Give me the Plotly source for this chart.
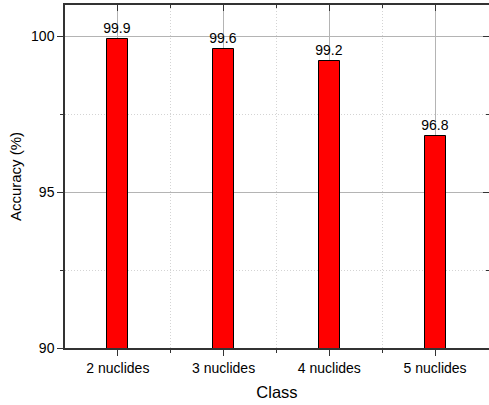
import plotly.graph_objects as go

categories = ["2 nuclides", "3 nuclides", "4 nuclides", "5 nuclides"]
accuracy = [99.9, 99.6, 99.2, 96.8]
y_ticks = [90, 95, 100]
y_minor = [92.5, 97.5]

x_pos = list(range(len(categories)))
x_minor = [i + 0.5 for i in range(len(categories) - 1)]
x_range = [-0.5, len(categories) - 0.5 + 0.01]
y_range = [90, 101]

AX = "#333333"
FONT = "Arial, Liberation Sans, sans-serif"

fig = go.Figure()
fig.add_trace(go.Bar(
    x=x_pos, y=accuracy, width=0.2,
    marker=dict(color="#ff0000", line=dict(color="#000000", width=1)),
    text=[f"{v:.1f}" for v in accuracy], textposition="outside",
    constraintext="none",
    textfont=dict(size=14, color="#000000", family=FONT),
    cliponaxis=False,
))
# invisible trace to activate mirrored top/right axes
fig.add_trace(go.Scatter(x=[None], y=[None], xaxis="x2", yaxis="y2", showlegend=False))

fig.update_layout(
    width=489, height=405,
    margin=dict(l=65, r=0, t=5, b=57),
    plot_bgcolor="white", paper_bgcolor="white",
    showlegend=False, bargap=0,
    font=dict(family=FONT, size=14, color="#000000"),
    xaxis=dict(
        range=x_range, tickvals=x_pos, ticktext=categories,
        showline=True, linecolor=AX, linewidth=1.5,
        ticks="outside", ticklen=6, tickcolor=AX, tickwidth=1,
        showgrid=True, gridcolor="#b4b4b4", gridwidth=1,
        zeroline=False,
        minor=dict(tickvals=x_minor, ticks="outside", ticklen=3, tickcolor=AX,
                   showgrid=True, gridcolor="#d4d4d4", griddash="1px,2px", gridwidth=1),
        title=dict(text="Class", font=dict(size=16.5), standoff=12),
        tickfont=dict(size=14),
    ),
    yaxis=dict(
        range=y_range, tickvals=y_ticks,
        showline=True, linecolor=AX, linewidth=1.5,
        ticks="outside", ticklen=6, tickcolor=AX, tickwidth=1,
        showgrid=True, gridcolor="#b4b4b4", gridwidth=1,
        zeroline=False,
        minor=dict(tickvals=y_minor, ticks="outside", ticklen=3, tickcolor=AX,
                   showgrid=True, gridcolor="#d4d4d4", griddash="1px,2px", gridwidth=1),
        title=dict(text="Accuracy (%)", font=dict(size=15), standoff=6),
        tickfont=dict(size=14),
    ),
    xaxis2=dict(
        overlaying="x", side="top", range=x_range, tickvals=x_pos,
        showticklabels=False, showline=True, linecolor=AX, linewidth=1.5,
        ticks="inside", ticklen=6, tickcolor=AX, showgrid=False, zeroline=False,
        minor=dict(tickvals=x_minor, ticks="inside", ticklen=3, tickcolor=AX, showgrid=False),
    ),
    yaxis2=dict(
        overlaying="y", side="right", range=y_range, tickvals=y_ticks,
        showticklabels=False, showline=False,
        ticks="inside", ticklen=6, tickcolor=AX, showgrid=False, zeroline=False,
        minor=dict(tickvals=y_minor, ticks="inside", ticklen=3, tickcolor=AX, showgrid=False),
    ),
)

fig.write_html("out.html")
